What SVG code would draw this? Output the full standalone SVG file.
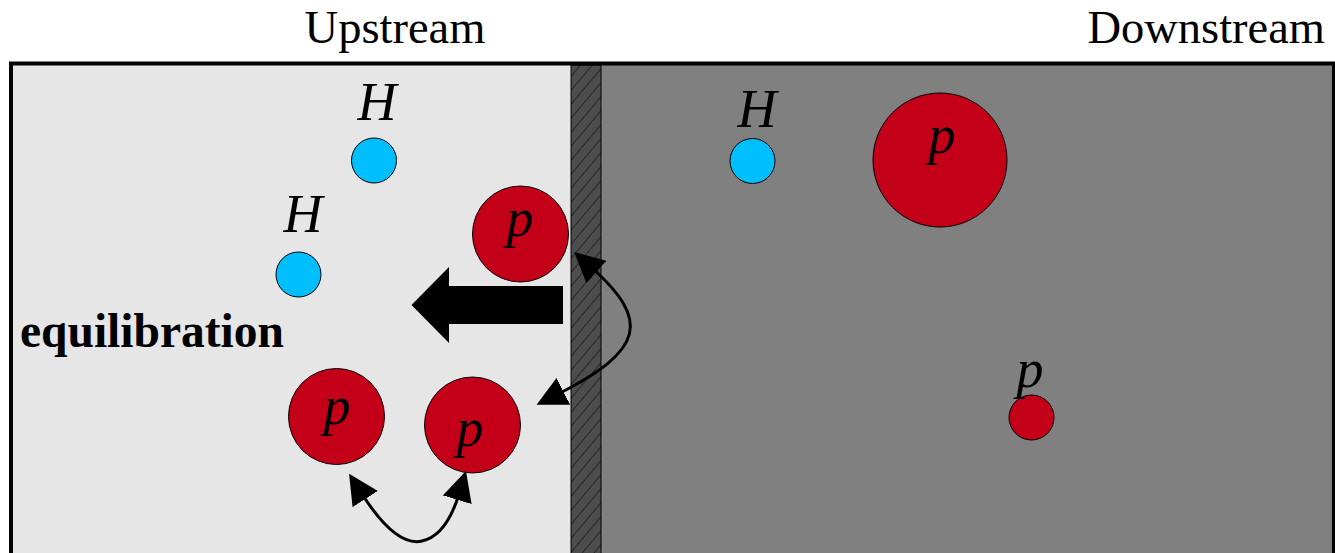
<svg xmlns="http://www.w3.org/2000/svg" width="1335" height="553" viewBox="0 0 1335 553">
  <defs>
    <pattern id="hatch" patternUnits="userSpaceOnUse" width="9" height="9" patternTransform="rotate(40)">
      <rect width="9" height="9" fill="#4d4d4d"/>
      <line x1="0" y1="0" x2="0" y2="9" stroke="#111" stroke-width="1.3"/>
    </pattern>
    <marker id="ah" viewBox="0 0 10 10" refX="2" refY="5" markerWidth="10" markerHeight="10" orient="auto-start-reverse" markerUnits="strokeWidth">
      <path d="M0,0 L10,5 L0,10 z" fill="#000"/>
    </marker>
  </defs>
  <style>
    .title { font-family: "Liberation Serif", "Times New Roman", serif; font-size: 46.5px; fill: #000; }
    .lbl { font-family: "Liberation Serif", "Times New Roman", serif; font-style: italic; font-size: 54px; fill: #000; text-anchor: middle; }
    .h { fill: #00bfff; stroke: #000; stroke-width: 1; }
    .p { fill: #c40018; stroke: #000; stroke-width: 1; }
    .curve { fill: none; stroke: #000; stroke-width: 3; }
  </style>
  <rect width="1335" height="553" fill="#fff"/>
  <text class="title" x="395" y="43" text-anchor="middle">Upstream</text>
  <text class="title" x="1325" y="43" text-anchor="end">Downstream</text>

  <g id="upstream-region">
    <rect x="13" y="65" width="558" height="490" fill="#e6e6e6"/>
  </g>
  <g id="downstream-region">
    <rect x="601" y="65" width="732" height="490" fill="#808080"/>
  </g>
  <g id="membrane">
    <rect x="571" y="65" width="30" height="490" fill="url(#hatch)" stroke="#000" stroke-width="1"/>
  </g>
  <rect x="11" y="63.5" width="1323" height="500" fill="none" stroke="#000" stroke-width="4"/>

  <g id="H-up-1">
    <circle class="h" cx="374" cy="160.5" r="22.5"/>
    <text class="lbl" x="377" y="120">H</text>
  </g>
  <g id="H-up-2">
    <circle class="h" cx="298.5" cy="274.5" r="22.5"/>
    <text class="lbl" x="303" y="232">H</text>
  </g>
  <g id="p-up-wall">
    <circle class="p" cx="520.5" cy="234" r="48"/>
    <text class="lbl" x="520" y="236">p</text>
  </g>
  <g id="p-up-1">
    <circle class="p" cx="336.5" cy="416.5" r="48"/>
    <text class="lbl" x="337" y="424">p</text>
  </g>
  <g id="p-up-2">
    <circle class="p" cx="472.5" cy="425" r="48"/>
    <text class="lbl" x="470" y="446">p</text>
  </g>
  <g id="H-down">
    <circle class="h" cx="752.5" cy="161" r="22.5"/>
    <text class="lbl" x="757" y="127">H</text>
  </g>
  <g id="p-down-big">
    <circle class="p" cx="940" cy="160" r="67"/>
    <text class="lbl" x="942" y="153">p</text>
  </g>
  <g id="p-down-small">
    <circle class="p" cx="1031.5" cy="417.5" r="22.5"/>
    <text class="lbl" x="1030" y="387">p</text>
  </g>

  <g id="equilibration">
    <path d="M563,286 L449,286 L449,267 L411.5,305 L449,343 L449,324 L563,324 Z" fill="#000"/>
    <text x="20" y="347" font-family="Liberation Serif, Times New Roman, serif" font-weight="bold" font-size="47.5" fill="#000">equilibration</text>
  </g>

  <g id="connectors">
    <path class="curve" d="M592,268 C650,320 645,350 558,394" marker-start="url(#ah)" marker-end="url(#ah)"/>
    <path class="curve" d="M362,494 C385,530 405,545 422,541 C440,537 452,517 459,494" marker-start="url(#ah)" marker-end="url(#ah)"/>
  </g>
</svg>
